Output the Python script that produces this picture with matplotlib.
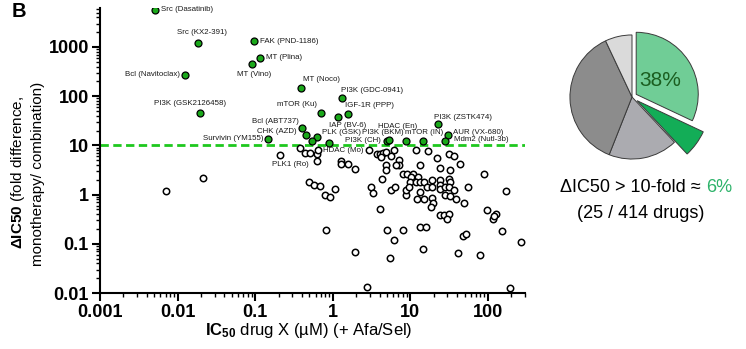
import matplotlib
matplotlib.use('Agg')
import matplotlib.pyplot as plt
from matplotlib.ticker import LogLocator, FuncFormatter, NullFormatter

plt.rcParams['font.family'] = ['Liberation Sans', 'DejaVu Sans']
plt.rcParams['mathtext.fontset'] = 'custom'
plt.rcParams['mathtext.rm'] = 'Liberation Sans'
plt.rcParams['mathtext.bf'] = 'Liberation Sans:bold'

# drugs with dIC50 > 10 fold (green)
hit_names = ['Src (Dasatinib)', 'Src (KX2-391)', 'FAK (PND-1186)', 'MT (Plina)', 'MT (Vino)',
             'Bcl (Navitoclax)', 'PI3K (GSK2126458)', 'MT (Noco)', 'PI3K (GDC-0941)', 'mTOR (Ku)',
             'IGF-1R (PPP)', 'IAP (BV-6)', 'Bcl (ABT737)', 'CHK (AZD)', 'PLK (GSK)', '',
             'Survivin (YM155)', '', 'PI3K (CH)', 'PI3K (BKM)', 'HDAC (En)', 'mTOR (IN)',
             'PI3K (ZSTK474)', 'AUR (VX-680)', 'Mdm2 (Nutl-3b)']
hit_ic50 = [0.0051, 0.0184, 0.097, 0.114, 0.092, 0.0126, 0.0193, 0.386, 1.31, 0.70,
            1.55, 1.17, 0.40, 0.457, 0.62, 0.535, 0.148, 0.90, 5.0, 5.3, 8.9, 14.6,
            22.9, 30.3, 27.8]
hit_delta = [5680, 1210, 1306, 590, 454, 271, 45.8, 147, 92, 44.9,
             43.6, 38.5, 23.0, 16.0, 15.1, 12.3, 13.7, 11.0, 12.1, 12.7, 12.5, 12.5,
             26.9, 16.0, 12.3]

# all other drugs (open circles)
other_ic50 = [0.0071, 0.0212, 0.21, 0.378, 0.435, 0.506, 0.62, 0.65, 0.62, 1.27, 1.29, 1.58,
              1.92, 0.49, 0.577, 0.69, 0.79, 0.91, 1.06, 0.81, 1.92, 2.77, 2.94, 3.72, 4.03,
              4.5, 4.81, 4.18, 5.6, 6.07, 4.81, 4.81, 4.34, 3.1, 3.25, 4.03, 4.97, 6.07, 5.44, 7.03,
              7.03, 6.55, 5.6, 6.38, 7.98, 11.9, 16.8, 13.3, 8.13, 8.94, 10.7, 10.1, 12.4, 9.75, 11.9,
              13.3, 14.8, 19.0, 16.3, 19.0, 13.3, 12.0, 15.0, 19.0, 19.3, 18.5, 8.8, 8.8, 9.6,
              13.3, 15.8, 14.5, 22.1, 31.8, 36.8, 44, 23.8, 32.6, 23.8, 24.3, 23.8, 28.2,
              31.8, 32.6, 31.8, 28.2, 32.6, 36.8, 39.1, 49.7, 54.7, 23.8, 27.3, 31.8, 29.5,
              47.6, 52.5, 41.4, 79.4, 88.3, 97.2, 115, 128, 121, 151, 169, 265, 195]
other_delta = [1.2, 2.2, 6.3, 9.0, 7.0, 7.0, 6.6, 8.0, 4.8, 4.8, 4.1, 4.1,
               3.3, 1.8, 1.6, 1.5, 1.0, 0.91, 1.28, 0.19, 0.068, 0.0134, 7.9, 6.6, 6.6,
               7.0, 7.3, 5.8, 6.0, 8.2, 4.0, 3.1, 2.1, 1.45, 1.06, 0.51, 0.19, 0.12, 0.051, 5.0,
               4.0, 4.0, 1.24, 1.4, 0.19, 7.9, 7.6, 4.0, 2.6, 2.6, 2.6, 2.3, 2.3, 1.8, 1.8,
               1.77, 1.77, 2.0, 1.45, 1.45, 1.15, 0.82, 0.82, 0.87, 0.67, 0.56, 0.98, 1.24, 1.45,
               0.22, 0.22, 0.077, 5.6, 6.8, 6.0, 4.1, 3.5, 3.2, 2.0, 1.57, 1.28, 1.45,
               2.1, 1.8, 1.45, 0.98, 0.94, 1.24, 0.81, 0.69, 1.4, 0.39, 0.39, 0.41, 0.32,
               0.143, 0.16, 0.064, 0.058, 2.6, 0.48, 0.32, 0.41, 0.36, 0.18, 1.2, 0.108, 0.0126]
other_named = {2: 'PLK1 (Ro)', 7: 'HDAC (Mo)'}

# pie: share of drugs per class
pie_values = [32, 6, 18, 37, 7]
pie_colors = ['#70cd96', '#13ad57', '#ababb0', '#8c8c8c', '#dadada']

# label placement (ha, dx px, dy px)
label_pos = {
    'Src (Dasatinib)': ('left', 6, 0), 'Src (KX2-391)': ('center', 4, 10),
    'FAK (PND-1186)': ('left', 6, 0), 'MT (Plina)': ('left', 6, 1),
    'MT (Vino)': ('center', 2, -11), 'Bcl (Navitoclax)': ('right', -5, 0),
    'PI3K (GSK2126458)': ('center', -10, 9), 'MT (Noco)': ('left', 2, 8),
    'PI3K (GDC-0941)': ('left', -1, 7), 'mTOR (Ku)': ('right', -4, 9),
    'IGF-1R (PPP)': ('left', -3, 8), 'IAP (BV-6)': ('left', -9, -9),
    'Bcl (ABT737)': ('right', -3, 6), 'CHK (AZD)': ('right', -10, 4),
    'PLK (GSK)': ('left', 5, 4), 'Survivin (YM155)': ('right', -5, 0),
    'PI3K (CH)': ('right', -6, 1), 'PI3K (BKM)': ('center', -6, 8),
    'HDAC (En)': ('center', -9, 14), 'mTOR (IN)': ('center', 1, 8),
    'PI3K (ZSTK474)': ('left', -4, 7), 'AUR (VX-680)': ('left', 5, 3),
    'Mdm2 (Nutl-3b)': ('left', 9, 1), 'PLK1 (Ro)': ('left', -8, -9),
    'HDAC (Mo)': ('left', 5, 0),
}

W, H = 746, 349
fig = plt.figure(figsize=(W / 100, H / 100), dpi=100)
ax = fig.add_axes([100 / W, 1 - 293 / H, 425 / W, 285 / H])

ax.axhline(10, color='#1ec81e', lw=2, ls=(0, (3, 1.6)), zorder=1)
ax.plot(other_ic50, other_delta, 'o', ms=4.6, mfc='white', mec='black', mew=1.1, zorder=2)
ax.plot(hit_ic50, hit_delta, 'o', ms=5, mfc='#1aa81a', mec='black', mew=0.9, zorder=3)

for name, x, y in zip(hit_names, hit_ic50, hit_delta):
    if name:
        ha, dx, dy = label_pos[name]
        ax.annotate(name, (x, y), xytext=(dx, dy), textcoords='offset pixels',
                    ha=ha, va='center', fontsize=5.7, color='#1a1a1a')
for i, name in other_named.items():
    ha, dx, dy = label_pos[name]
    ax.annotate(name, (other_ic50[i], other_delta[i]), xytext=(dx, dy), textcoords='offset pixels',
                ha=ha, va='center', fontsize=5.7, color='#1a1a1a')

ax.set_xscale('log')
ax.set_yscale('log')
ax.set_xlim(0.001, 300)
ax.set_ylim(0.01, 6200)
fmt = FuncFormatter(lambda v, p: '{:g}'.format(v))
for axis in (ax.xaxis, ax.yaxis):
    axis.set_major_locator(LogLocator(base=10, numticks=20))
    axis.set_minor_locator(LogLocator(base=10, subs=range(2, 10), numticks=20))
    axis.set_major_formatter(fmt)
    axis.set_minor_formatter(NullFormatter())
ax.tick_params(which='major', length=6, width=1.5, labelsize=13, pad=2)
ax.tick_params(which='minor', length=3, width=1)
for lab in ax.get_xticklabels() + ax.get_yticklabels():
    lab.set_fontweight('bold')
for s in ('top', 'right'):
    ax.spines[s].set_visible(False)
for s in ('left', 'bottom'):
    ax.spines[s].set_linewidth(1.5)

fig.text(18 / W, 1 - 172 / H, r'$\mathbf{\Delta IC50}$ (fold difference,', rotation=90,
         ha='center', va='center', fontsize=11)
fig.text(38 / W, 1 - 174 / H, 'monotherapy/ combination)', rotation=90,
         ha='center', va='center', fontsize=11)
fig.text(309 / W, 1 - 331 / H, r'$\mathbf{IC_{50}}$ drug X (µM) (+ Afa/Sel)',
         ha='center', va='center', fontsize=12)
fig.text(12 / W, 1 - 17 / H, 'B', fontsize=14.5, fontweight='bold', va='baseline')

# pie
pax = fig.add_axes([(632 - 85) / W, 1 - (97 + 85) / H, 170 / W, 170 / H])
wedges, _ = pax.pie(pie_values, colors=pie_colors, startangle=90, counterclock=False,
                    explode=[0.08, 0.1, 0, 0, 0], radius=1,
                    wedgeprops=dict(edgecolor='#3a3a3a', linewidth=0.7))
wedges[1].set_radius(1.18)
pax.set_xlim(-1.37, 1.37)
pax.set_ylim(-1.37, 1.37)
pax.set_aspect('equal')
pax.axis('off')
pax.text(0.45, 0.27, '38%', fontsize=15, color='#1b5e20', ha='center', va='center')

t1 = fig.text(0, 1 - 188 / H, 'ΔIC50 > 10-fold ≈ ', fontsize=13, ha='left', va='center')
t2 = fig.text(0, 1 - 188 / H, '6%', fontsize=13, color='#2db36a', ha='left', va='center')
fig.canvas.draw()
r = fig.canvas.get_renderer()
w1 = t1.get_window_extent(r).width
w2 = t2.get_window_extent(r).width
x0 = 646 - (w1 + w2) / 2
t1.set_x(x0 / W)
t2.set_x((x0 + w1) / W)
fig.text(641 / W, 1 - 213 / H, '(25 / 414 drugs)', fontsize=13, ha='center', va='center')

fig.savefig('out.png', dpi=100)
